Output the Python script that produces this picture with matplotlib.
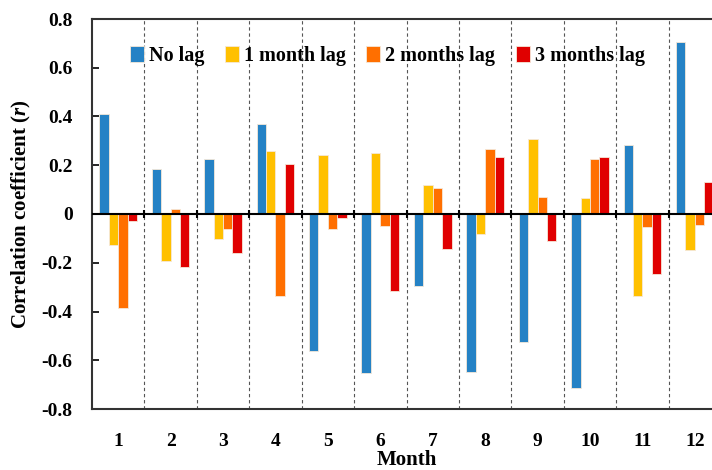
import matplotlib
matplotlib.use("Agg")
import matplotlib.pyplot as plt
import numpy as np

plt.rcParams['font.family'] = ['Liberation Serif', 'DejaVu Serif']
plt.rcParams['font.weight'] = 'bold'
plt.rcParams['mathtext.fontset'] = 'custom'
plt.rcParams['mathtext.it'] = 'Liberation Serif:italic:bold'
plt.rcParams['mathtext.rm'] = 'Liberation Serif:bold'

months = ['1', '2', '3', '4', '5', '6', '7', '8', '9', '10', '11', '12']
series_names = ['No lag', '1 month lag', '2 months lag', '3 months lag']
no_lag = [0.411, 0.183, 0.224, 0.368, -0.561, -0.654, -0.297, -0.648, -0.525, -0.712, 0.282, 0.706]
lag1 = [-0.127, -0.193, -0.103, 0.257, 0.241, 0.249, 0.118, -0.082, 0.306, 0.067, -0.338, -0.148]
lag2 = [-0.387, 0.019, -0.060, -0.338, -0.060, -0.048, 0.108, 0.268, 0.070, 0.224, -0.053, -0.045]
lag3 = [-0.030, -0.216, -0.159, 0.204, -0.015, -0.316, -0.145, 0.233, -0.112, 0.234, -0.246, 0.131]
ytick_labels = ['-0.8', '-0.6', '-0.4', '-0.2', '0', '0.2', '0.4', '0.6', '0.8']
colors = ['#2582C5', '#FFC000', '#FF6F00', '#E00000']

fig = plt.figure(figsize=(7.12, 4.70), dpi=100)
ax = fig.add_axes([92/712, 61/470, (721-92)/712, 390/470])

x = np.arange(1, len(months) + 1)
w = 0.18
for i, (vals, name, c) in enumerate(zip([no_lag, lag1, lag2, lag3], series_names, colors)):
    ax.bar(x + (i - 1.5) * w, vals, width=w, color=c, edgecolor='#F5E8D8',
           linewidth=0.6, label=name, zorder=3)

ax.set_xlim(0.5, 12.5)
ax.set_ylim(-0.8, 0.8)
ax.set_yticks(np.linspace(-0.8, 0.8, len(ytick_labels)))
ax.set_yticklabels(ytick_labels)
ax.set_xticks(x)
ax.set_xticklabels(months)
ax.tick_params(axis='x', length=0, pad=17, labelsize=14)
ax.tick_params(axis='y', direction='in', length=5, width=1.2, pad=14, labelsize=14)

bounds = np.arange(1.5, 12.5, 1.0)
for b in bounds:
    ax.axvline(b, color='#555555', linestyle=(0, (3, 2.5)), linewidth=0.8, zorder=1)
ax.axhline(0, color='black', linewidth=1.5, zorder=4)
ax.vlines(bounds, -0.018, 0.018, color='black', linewidth=1.5, zorder=4)

for s in ['left', 'top', 'bottom']:
    ax.spines[s].set_linewidth(1.5)
    ax.spines[s].set_color('#333333')
ax.spines['right'].set_visible(False)

ax.set_xlabel('Month', fontsize=15, fontweight='bold', labelpad=0)
ax.set_ylabel('Correlation coefficient ($r$)', fontsize=15, fontweight='bold', labelpad=6)

leg = ax.legend(ncol=4, loc='upper left', bbox_to_anchor=(0.032, 0.978), frameon=False,
                handlelength=0.7, handleheight=0.9, handletextpad=0.25,
                columnspacing=1.0, prop={'family': 'Liberation Serif', 'weight': 'bold', 'size': 14.5})

fig.savefig('out.png', dpi=100)
